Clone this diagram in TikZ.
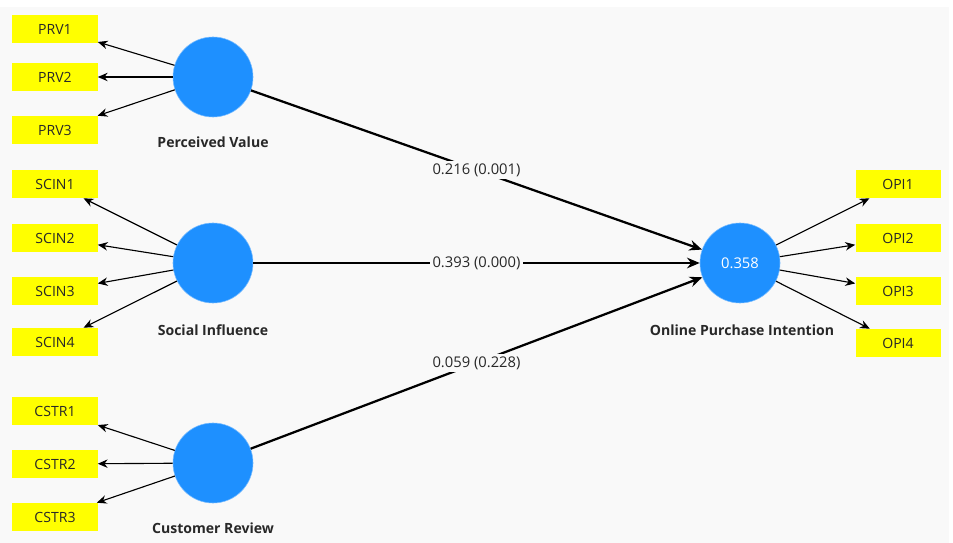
\documentclass[tikz,border=0pt]{standalone}
\usepackage{fontspec}
\setmainfont{Open Sans}
\usetikzlibrary{arrows.meta}
\definecolor{lvblue}{RGB}{30,144,255}
\definecolor{mvyellow}{RGB}{255,255,0}
\definecolor{canvas}{RGB}{249,249,249}
\definecolor{inktext}{RGB}{40,40,40}
\begin{document}
\begin{tikzpicture}[x=0.025cm, y=-0.025cm,
    latent/.style={circle, fill=lvblue, draw=lvblue!60, line width=0.4pt, minimum size=2cm, inner sep=0pt, text=white, font=\fontsize{10.5}{12}\selectfont},
    indicator/.style={rectangle, fill=mvyellow, minimum width=2.125cm, minimum height=0.7cm, inner sep=0pt, text=inktext, font=\fontsize{10}{12}\selectfont},
    lvname/.style={text=inktext, font=\bfseries\fontsize{10}{12}\selectfont},
    loading/.style={-{Stealth[length=7pt, width=6pt]}, line width=0.8pt},
    path/.style={-{Stealth[length=9pt, width=7.5pt]}, line width=1.6pt},
    coef/.style={fill=canvas, inner sep=1.5pt, text=inktext, font=\fontsize{10.5}{12}\selectfont}]
  \useasboundingbox (0,0) rectangle (953,543);
  \fill[white] (0,0) rectangle (953,543);
  \fill[canvas] (0,7) rectangle (949,543);

  % latent variables
  \node[latent] (pv) at (213,77) {};
  \node[latent] (si) at (213,263) {};
  \node[latent] (cr) at (213,463) {};
  \node[latent] (opi) at (740,263) {0.358};

  \node[lvname] (pvlabel) at (213,142) {Perceived Value};
  \node[lvname] (silabel) at (213,330) {Social Influence};
  \node[lvname] (crlabel) at (213,528) {Customer Review};
  \node[lvname] (opilabel) at (742,330) {Online Purchase Intention};

  % indicators
  \node[indicator] (prv1) at (55,29) {PRV1};
  \node[indicator] (prv2) at (55,77) {PRV2};
  \node[indicator] (prv3) at (55,130) {PRV3};

  \node[indicator] (scin1) at (55,184) {SCIN1};
  \node[indicator] (scin2) at (55,238) {SCIN2};
  \node[indicator] (scin3) at (55,291) {SCIN3};
  \node[indicator] (scin4) at (55,342) {SCIN4};

  \node[indicator] (cstr1) at (55,411) {CSTR1};
  \node[indicator] (cstr2) at (55,464) {CSTR2};
  \node[indicator] (cstr3) at (55,517) {CSTR3};

  \node[indicator] (opi1) at (898,184) {OPI1};
  \node[indicator] (opi2) at (898,238) {OPI2};
  \node[indicator] (opi3) at (898,291) {OPI3};
  \node[indicator] (opi4) at (898,343) {OPI4};

  % outer loadings
  \draw[loading] (pv) -- (prv1);
  \draw[loading] (pv) -- (prv2);
  \draw[loading] (pv) -- (prv3);

  \draw[loading] (si) -- (scin1);
  \draw[loading] (si) -- (scin2);
  \draw[loading] (si) -- (scin3);
  \draw[loading] (si) -- (scin4);

  \draw[loading] (cr) -- (cstr1);
  \draw[loading] (cr) -- (cstr2);
  \draw[loading] (cr) -- (cstr3);

  \draw[loading] (opi) -- (opi1);
  \draw[loading] (opi) -- (opi2);
  \draw[loading] (opi) -- (opi3);
  \draw[loading] (opi) -- (opi4);

  % structural paths
  \draw[path] (pv) -- node[coef] {0.216 (0.001)} (opi);
  \draw[path] (si) -- node[coef] {0.393 (0.000)} (opi);
  \draw[path] (cr) -- node[coef] {0.059 (0.228)} (opi);
\end{tikzpicture}
\end{document}
